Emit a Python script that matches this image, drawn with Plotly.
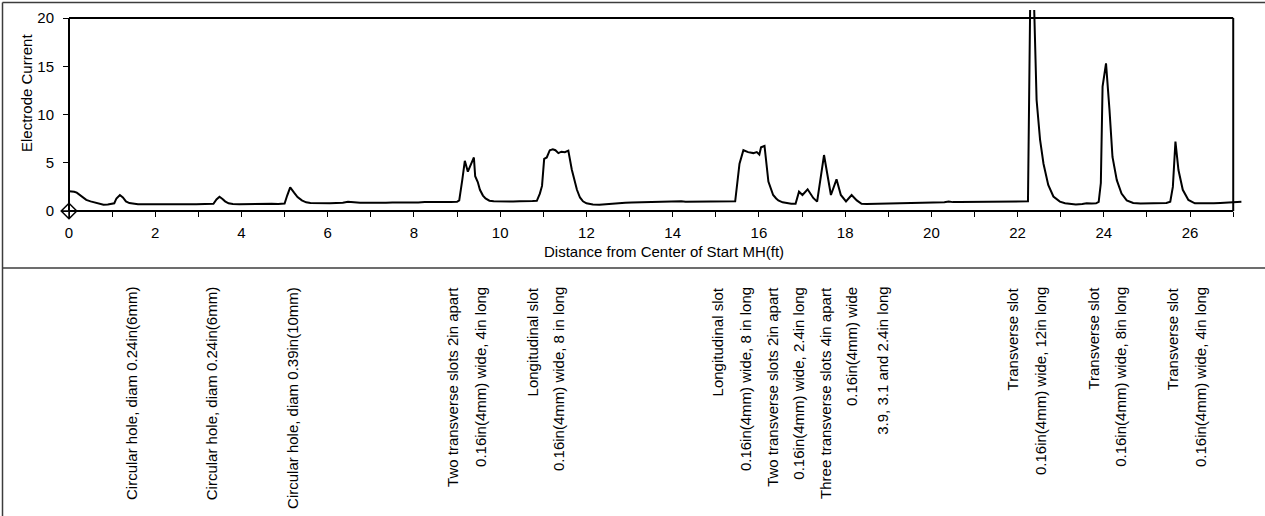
import plotly.graph_objects as go

# Electrode current scan along the pipe
distance_ft = [
    0.00, 0.05, 0.12, 0.18, 0.25, 0.32, 0.40, 0.50, 0.60, 0.70, 0.80, 0.90, 1.00, 1.05, 1.10, 1.18,
    1.25, 1.32, 1.40, 1.50, 1.60, 1.75, 1.90, 2.05, 2.20, 2.35, 2.50, 2.65, 2.80, 2.95, 3.10, 3.25,
    3.35, 3.42, 3.49, 3.56, 3.62, 3.70, 3.80, 3.95, 4.10, 4.25, 4.40, 4.55, 4.70, 4.85, 5.00, 5.06,
    5.13, 5.22, 5.30, 5.40, 5.50, 5.60, 5.75, 5.90, 6.05, 6.20, 6.35, 6.47, 6.60, 6.75, 6.90, 7.05,
    7.20, 7.35, 7.50, 7.65, 7.80, 7.95, 8.10, 8.25, 8.40, 8.55, 8.70, 8.85, 9.00, 9.05, 9.12, 9.18,
    9.25, 9.32, 9.39, 9.42, 9.48, 9.53, 9.60, 9.66, 9.75, 9.85, 10.00, 10.15, 10.30, 10.45, 10.60, 10.75,
    10.85, 10.92, 10.97, 11.02, 11.08, 11.15, 11.22, 11.28, 11.35, 11.42, 11.50, 11.58, 11.66, 11.72, 11.78, 11.85,
    11.92, 12.00, 12.15, 12.30, 12.45, 12.60, 12.75, 12.90, 13.05, 13.20, 13.35, 13.50, 13.65, 13.80, 13.95, 14.10,
    14.20, 14.30, 14.45, 14.60, 14.75, 14.90, 15.05, 15.20, 15.35, 15.45, 15.55, 15.64, 15.75, 15.87, 15.95, 16.01,
    16.05, 16.13, 16.22, 16.28, 16.33, 16.40, 16.45, 16.55, 16.64, 16.75, 16.85, 16.93, 17.01, 17.13, 17.26, 17.35,
    17.51, 17.59, 17.67, 17.80, 17.90, 18.02, 18.15, 18.27, 18.38, 18.50, 18.65, 18.80, 18.95, 19.10, 19.25, 19.40,
    19.55, 19.70, 19.85, 20.00, 20.15, 20.30, 20.40, 20.50, 20.65, 20.80, 20.95, 21.10, 21.25, 21.40, 21.55, 21.70,
    21.85, 22.00, 22.10, 22.20, 22.24, 22.30, 22.36, 22.44, 22.52, 22.60, 22.71, 22.83, 22.98, 23.10, 23.21, 23.35,
    23.50, 23.60, 23.72, 23.82, 23.88, 23.93, 23.97, 24.05, 24.13, 24.20, 24.30, 24.41, 24.53, 24.68, 24.85, 25.00,
    25.15, 25.30, 25.45, 25.54, 25.60, 25.66, 25.73, 25.83, 25.96, 26.11, 26.25, 26.40, 26.55, 26.70, 26.85, 27.00,
    27.10, 27.19,
]
electrode_current = [
    2.05, 2.05, 2.00, 1.90, 1.65, 1.35, 1.15, 1.00, 0.88, 0.78, 0.65, 0.68, 0.72, 0.80, 1.30, 1.65,
    1.40, 1.00, 0.82, 0.72, 0.70, 0.71, 0.69, 0.72, 0.70, 0.71, 0.69, 0.72, 0.70, 0.71, 0.70, 0.72,
    0.75, 1.20, 1.48, 1.25, 1.00, 0.80, 0.72, 0.70, 0.72, 0.70, 0.73, 0.71, 0.74, 0.72, 0.78, 1.60,
    2.45, 1.90, 1.45, 1.10, 0.90, 0.82, 0.80, 0.82, 0.80, 0.83, 0.85, 0.95, 0.88, 0.85, 0.86, 0.84,
    0.87, 0.86, 0.88, 0.87, 0.89, 0.90, 0.89, 0.92, 0.91, 0.93, 0.92, 0.94, 0.95, 1.10, 3.20, 5.20,
    4.07, 4.90, 5.55, 3.60, 3.00, 2.20, 1.60, 1.30, 1.07, 1.00, 0.98, 1.00, 0.99, 1.02, 1.00, 1.03,
    1.05, 1.80, 2.60, 5.40, 5.55, 6.30, 6.40, 6.30, 6.00, 6.15, 6.10, 6.25, 4.30, 3.10, 2.20, 1.40,
    1.00, 0.80, 0.68, 0.66, 0.72, 0.80, 0.84, 0.86, 0.88, 0.90, 0.91, 0.92, 0.93, 0.93, 0.94, 0.95,
    1.02, 0.96, 0.97, 0.99, 0.97, 0.98, 0.97, 0.98, 0.98, 1.00, 4.90, 6.30, 6.10, 6.00, 6.10, 5.85,
    6.60, 6.75, 3.05, 2.20, 1.66, 1.30, 1.10, 0.90, 0.80, 0.75, 0.75, 2.00, 1.66, 2.25, 1.35, 0.97,
    5.80, 3.56, 1.66, 3.28, 1.66, 1.00, 1.66, 1.10, 0.75, 0.72, 0.73, 0.75, 0.78, 0.80, 0.82, 0.84,
    0.85, 0.86, 0.88, 0.89, 0.90, 0.91, 0.98, 0.92, 0.92, 0.93, 0.93, 0.94, 0.95, 0.95, 0.96, 0.96,
    0.97, 0.97, 0.97, 0.98, 1.00, 25.0, 25.0, 11.5, 7.40, 4.90, 2.70, 1.50, 0.97, 0.80, 0.73, 0.68,
    0.72, 0.80, 0.78, 0.80, 0.95, 2.90, 12.9, 15.3, 10.5, 5.60, 3.20, 1.80, 1.10, 0.83, 0.78, 0.80,
    0.80, 0.82, 0.83, 0.97, 2.50, 7.20, 4.25, 2.20, 1.15, 0.80, 0.78, 0.82, 0.80, 0.84, 0.88, 0.92,
    0.95, 0.97,
]

# Defect descriptions printed under the chart, one text line each, at their distance (ft)
defect_label_lines = [
    "Circular hole, diam 0.24in(6mm)",
    "Circular hole, diam 0.24in(6mm)",
    "Circular hole, diam 0.39in(10mm)",
    "Two transverse slots 2in apart",
    "0.16in(4mm) wide, 4in long",
    "Longitudinal slot",
    "0.16in(4mm) wide, 8 in long",
    "Longitudinal slot",
    "0.16in(4mm) wide, 8 in long",
    "Two transverse slots 2in apart",
    "0.16in(4mm) wide, 2.4in long",
    "Three transverse slots 4in apart",
    "0.16in(4mm) wide",
    "3.9, 3.1 and 2.4in long",
    "Transverse slot",
    "0.16in(4mm) wide, 12in long",
    "Transverse slot",
    "0.16in(4mm) wide, 8in long",
    "Transverse slot",
    "0.16in(4mm) wide, 4in long",
]
defect_label_ft = [
    1.45, 3.31, 5.17, 8.88, 9.53, 10.76, 11.34, 15.05, 15.68, 16.30,
    16.91, 17.53, 18.15, 18.85, 21.89, 22.52, 23.75, 24.37, 25.60, 26.23,
]

x_ticks = list(range(0, 27, 2))
y_ticks = [0, 5, 10, 15, 20]

# Page geometry (pixels)
W, H = 1265, 516
ML, MR, MT, MB = 69, 21, 10, 305
X_MAX_AXIS = 27          # end of the drawn axis box
X_RANGE = [0, 27.25]
Y_BOX = 20
Y_RANGE = [0, 20.83]
plot_w = W - ML - MR
plot_h = H - MT - MB


def paper_x(px):
    return (px - ML) / plot_w


def paper_y(py):
    return (H - MB - py) / plot_h


FONT = "Arial, 'Liberation Sans', sans-serif"
INK = "black"

fig = go.Figure()
fig.add_trace(go.Scatter(
    x=distance_ft, y=electrode_current, mode="lines",
    line=dict(color=INK, width=2), hoverinfo="x+y", showlegend=False,
))
fig.add_trace(go.Scatter(
    x=[distance_ft[0]], y=[0], mode="markers", cliponaxis=False,
    marker=dict(symbol="diamond-cross-open", size=12, color=INK, line=dict(width=1.5, color=INK)),
    showlegend=False, hoverinfo="skip",
))

shapes = [
    # plot box
    dict(type="line", xref="x", yref="paper", x0=0, x1=X_MAX_AXIS, y0=0, y1=0,
         line=dict(color=INK, width=2)),
    dict(type="line", xref="paper", yref="y", x0=0, x1=0, y0=0, y1=Y_BOX,
         line=dict(color=INK, width=2)),
    dict(type="line", xref="x", yref="y", x0=0, x1=X_MAX_AXIS, y0=Y_BOX, y1=Y_BOX,
         line=dict(color=INK, width=2)),
    dict(type="line", xref="x", yref="y", x0=X_MAX_AXIS, x1=X_MAX_AXIS, y0=0, y1=Y_BOX,
         line=dict(color=INK, width=2)),
    # outer frame and divider above the description panel
    dict(type="line", xref="paper", yref="paper", x0=paper_x(2.5), x1=paper_x(W), y0=paper_y(2.5), y1=paper_y(2.5),
         line=dict(color="#3c3c3c", width=1.5)),
    dict(type="line", xref="paper", yref="paper", x0=paper_x(2.5), x1=paper_x(2.5), y0=paper_y(2.5), y1=paper_y(H),
         line=dict(color="#3c3c3c", width=1.5)),
    dict(type="line", xref="paper", yref="paper", x0=paper_x(2.5), x1=paper_x(W), y0=paper_y(268), y1=paper_y(268),
         line=dict(color="#3c3c3c", width=1.5)),
]

annotations = [
    dict(text="Electrode Current", xref="paper", yref="paper", x=paper_x(26), y=paper_y(93),
         textangle=-90, showarrow=False, xanchor="center", yanchor="middle",
         font=dict(family=FONT, size=15, color=INK)),
    dict(text="Distance from Center of Start MH(ft)", xref="paper", yref="paper",
         x=paper_x(664), y=paper_y(251), showarrow=False, xanchor="center", yanchor="middle",
         font=dict(family=FONT, size=15, color=INK)),
]
for text, ft in zip(defect_label_lines, defect_label_ft):
    annotations.append(dict(
        text=text, xref="x", yref="paper", x=ft, y=paper_y(285),
        textangle=-90, showarrow=False, xanchor="center", yanchor="top",
        font=dict(family=FONT, size=15, color=INK),
    ))

fig.update_layout(
    width=W, height=H,
    margin=dict(l=ML, r=MR, t=MT, b=MB, pad=0),
    paper_bgcolor="white", plot_bgcolor="white",
    font=dict(family=FONT, size=15, color=INK),
    shapes=shapes, annotations=annotations,
    xaxis=dict(
        range=X_RANGE, tickvals=x_ticks, ticktext=[str(v) for v in x_ticks],
        ticks="outside", ticklen=5, tickwidth=1, tickcolor=INK,
        minor=dict(dtick=1, tick0=0, ticks="outside", ticklen=5, tickwidth=1, tickcolor=INK, showgrid=False),
        showgrid=False, zeroline=False, showline=False, ticklabelstandoff=3,
        tickfont=dict(family=FONT, size=15, color=INK),
    ),
    yaxis=dict(
        range=Y_RANGE, tickvals=y_ticks, ticks="outside", ticklen=5, tickwidth=1, tickcolor=INK,
        showgrid=False, zeroline=False, showline=False, ticklabelstandoff=6,
        tickfont=dict(family=FONT, size=15, color=INK),
    ),
)

fig.write_html("out.html")
